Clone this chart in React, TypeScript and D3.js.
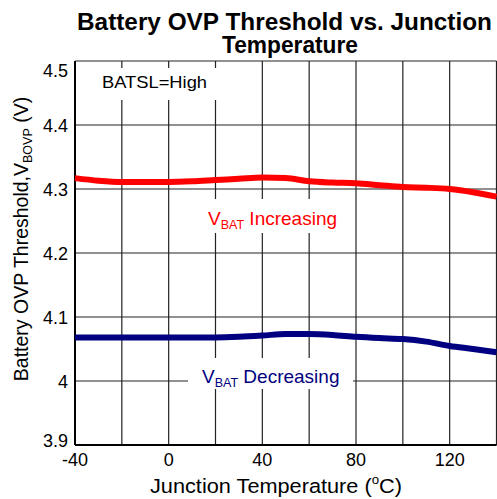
import React from "react";
import * as d3 from "d3";

const temps = [-40, -30, -20, -10, 0, 10, 20, 30, 40, 50, 60, 70, 80, 90, 100, 110, 120, 130, 140];
const vIncreasing = [4.317, 4.313, 4.311, 4.311, 4.311, 4.312, 4.314, 4.316, 4.318, 4.317, 4.312, 4.310, 4.309, 4.306, 4.303, 4.302, 4.300, 4.295, 4.288];
const vDecreasing = [4.068, 4.068, 4.068, 4.068, 4.068, 4.068, 4.068, 4.069, 4.071, 4.0735, 4.0735, 4.072, 4.069, 4.067, 4.0656, 4.0615, 4.0547, 4.050, 4.0448];
const xGrid = [-40, -20, 0, 20, 40, 60, 80, 100, 120, 140];
const xTickLabels = [-40, 0, 40, 80, 120];
const yTicks = [3.9, 4.0, 4.1, 4.2, 4.3, 4.4, 4.5];
const yTickLabels = ["3.9", "4", "4.1", "4.2", "4.3", "4.4", "4.5"];

const FONT = "'Liberation Sans', Arial, sans-serif";

export default function App() {
  const W = 497, H = 499;
  const x = d3.scaleLinear().domain([-40, 140]).range([75, 496.5]);
  const y = d3.scaleLinear().domain([3.9, 4.5]).range([445, 61]);
  const line = d3.line<number>().x((_, i) => x(temps[i])).y((d) => y(d)).curve(d3.curveMonotoneX);
  const yLabelPos = (t: number) => (t === 4.5 ? y(t) + 16 : t === 3.9 ? y(t) + 2 : y(t) + 6.5);

  return (
    <svg width={W} height={H} style={{ position: "absolute", left: 0, top: 0 }} fontFamily={FONT}>
      <rect width={W} height={H} fill="#fff" />
      {/* grid */}
      {xGrid.map((t) => (
        <line key={"gx" + t} x1={x(t)} x2={x(t)} y1={y(4.5)} y2={y(3.9)} stroke="#222" strokeWidth={1.2} />
      ))}
      {yTicks.map((t) => (
        <line key={"gy" + t} x1={x(-40)} x2={x(140)} y1={y(t)} y2={y(t)} stroke="#222" strokeWidth={1.2} />
      ))}
      {/* label backgrounds */}
      <rect x={95} y={68} width={122} height={32} fill="#fff" />
      <rect x={203} y={199} width={140} height={34} fill="#fff" />
      <rect x={188} y={358} width={165} height={31} fill="#fff" />
      {/* axes */}
      <line x1={x(-40)} x2={x(-40)} y1={y(4.5)} y2={y(3.9)} stroke="#000" strokeWidth={2} />
      <line x1={x(-40)} x2={x(140)} y1={y(3.9)} y2={y(3.9)} stroke="#000" strokeWidth={2} />
      {/* curves */}
      <path d={line(vIncreasing) || ""} fill="none" stroke="#ff0000" strokeWidth={6} strokeLinejoin="round" />
      <path d={line(vDecreasing) || ""} fill="none" stroke="#000080" strokeWidth={6} strokeLinejoin="round" />
      {/* labels */}
      <text x={102} y={88} fontSize={17} fill="#000" textLength={105} lengthAdjust="spacingAndGlyphs">BATSL=High</text>
      <text x={208} y={225} fontSize={19} fill="#ff0000">
        V<tspan fontSize={12.5} dy={4}>BAT</tspan><tspan dy={-4}> Increasing</tspan>
      </text>
      <text x={202} y={383} fontSize={19} fill="#000080">
        V<tspan fontSize={12.5} dy={4}>BAT</tspan><tspan dy={-4}> Decreasing</tspan>
      </text>
      {/* y tick labels */}
      {yTicks.map((t, i) => (
        <text key={"yl" + t} x={68} y={yLabelPos(t)} fontSize={18} textAnchor="end" fill="#000">
          {yTickLabels[i]}
        </text>
      ))}
      {/* x tick labels */}
      {xTickLabels.map((t) => (
        <text key={"xl" + t} x={x(t)} y={466} fontSize={18} textAnchor="middle" fill="#000">
          {t}
        </text>
      ))}
      {/* title */}
      <text x={77} y={29.5} fontSize={23.5} fontWeight="bold" fill="#000" textLength={415} lengthAdjust="spacingAndGlyphs">
        Battery OVP Threshold vs. Junction
      </text>
      <text x={222} y={53} fontSize={23} fontWeight="bold" fill="#000" textLength={136} lengthAdjust="spacingAndGlyphs">
        Temperature
      </text>
      {/* x title */}
      <g transform="translate(150,493) scale(1.06,1)">
        <text x={0} y={0} fontSize={20.5} fill="#000">
          Junction Temperature (<tspan fontSize={12.5} dy={-9}>o</tspan><tspan dy={9}>C)</tspan>
        </text>
      </g>
      {/* y title */}
      <text transform="translate(28,239) rotate(-90)" fontSize={19.5} textAnchor="middle" fill="#000">
        Battery OVP Threshold,V<tspan fontSize={12.5} dy={4}>BOVP</tspan><tspan dy={-4}> (V)</tspan>
      </text>
    </svg>
  );
}
